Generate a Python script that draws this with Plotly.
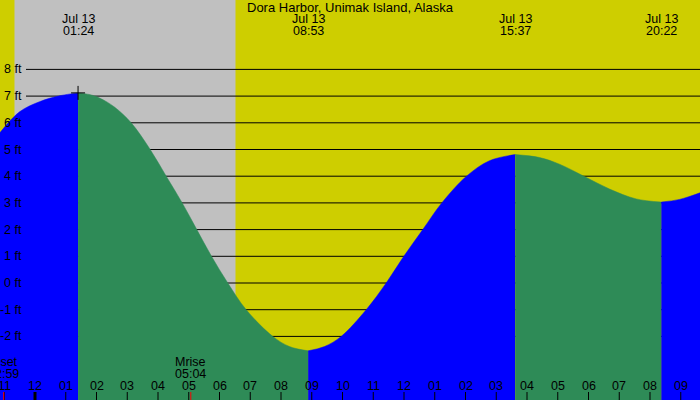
import plotly.graph_objects as go

# ---------------- data (hours relative to Jul 13 00:00, heights in ft) ----------------
TITLE = "Dora Harbor, Unimak Island, Alaska"
DATE_LABEL = "Jul 13"

TIMES = [-1.154, -0.504, 0.146, 0.797, 1.400, 1.772, 2.098, 2.585, 3.128, 3.746, 4.267,
         4.787, 5.262, 5.740, 6.270, 6.868, 7.733, 8.276, 8.883, 9.415, 9.958,
         10.771, 11.421, 11.993, 12.611, 13.229, 14.033, 14.780, 15.617, 16.406, 17.057,
         17.850, 18.683, 19.551, 20.367, 20.959, 21.700]
HEIGHTS = [5.61, 6.41, 6.79, 7.01, 7.12, 7.06, 6.93, 6.59, 6.00, 5.00, 4.00,
           3.00, 2.00, 1.00, 0.00, -1.00, -2.00, -2.38, -2.54, -2.38, -2.00,
           -1.00, 0.00, 1.00, 2.00, 3.00, 4.00, 4.58, 4.81, 4.70, 4.45,
           4.00, 3.52, 3.15, 3.03, 3.13, 3.41]

EVENT_CLOCK = ["01:24", "08:53", "15:37", "20:22"]
EVENT_HEIGHTS = [7.12, -2.54, 4.81, 3.03]

MARK_CLOCK = "01:24"
MARK_HEIGHT = 7.12

SUNSET = -0.667   # Jul 12 23:20
SUNRISE = 6.520   # Jul 13 06:31

MOON_EVENTS = [("Mset", "22:59", -1.017), ("Mrise", "05:04", 5.067)]

FT_LEVELS = [-2, -1, 0, 1, 2, 3, 4, 5, 6, 7, 8]
HOURS = list(range(-1, 22))

# ---------------- helpers ----------------
def clock_to_h(s):
    hh, mm = s.split(":")
    return int(hh) + int(mm) / 60.0

EVENT_TIMES = [clock_to_h(s) for s in EVENT_CLOCK]

PX_PER_H = 30.75
MIDNIGHT_PX = 35.0
W, H = 700, 400
x_range = [-MIDNIGHT_PX / PX_PER_H, (W - MIDNIGHT_PX) / PX_PER_H]
FT_PX = 26.7
ZERO_PX = 283.0
y_range = [-(H - ZERO_PX) / FT_PX, ZERO_PX / FT_PX]

YELLOW = "rgb(206,206,0)"
GRAY = "rgb(192,192,192)"
BLUE = "rgb(0,0,255)"
GREEN = "rgb(46,139,87)"
FONT = "Liberation Sans"

fig = go.Figure()

# tide segments (rising blue, falling green)
bounds = [TIMES[0]] + EVENT_TIMES + [TIMES[-1]]
for i in range(len(bounds) - 1):
    a, b = bounds[i], bounds[i + 1]
    xs = [t for t in TIMES if a - 1e-3 <= t <= b + 1e-3]
    ys = [h for t, h in zip(TIMES, HEIGHTS) if a - 1e-3 <= t <= b + 1e-3]
    color = BLUE if ys[-1] > ys[0] else GREEN
    fig.add_trace(go.Scatter(x=[xs[0], xs[-1]], y=[-20, -20], mode="lines",
                             line=dict(width=0, color=color), hoverinfo="skip",
                             showlegend=False))
    fig.add_trace(go.Scatter(x=xs, y=ys, mode="lines", fill="tonexty",
                             fillcolor=color,
                             line=dict(width=0.5, color=color, shape="spline", smoothing=1),
                             hoverinfo="skip", showlegend=False))

# peak marker
fig.add_trace(go.Scatter(x=[clock_to_h(MARK_CLOCK)], y=[MARK_HEIGHT], mode="markers",
                         marker=dict(symbol="cross-thin", size=10,
                                     line=dict(width=1, color="black")),
                         hoverinfo="skip", showlegend=False))

shapes = []
# night band
shapes.append(dict(type="rect", xref="x", yref="paper", x0=SUNSET, x1=SUNRISE,
                   y0=0, y1=1, fillcolor=GRAY, line=dict(width=0), layer="below"))
# horizontal grid lines
for v in FT_LEVELS:
    shapes.append(dict(type="line", xref="paper", yref="y", x0=26 / W, x1=1,
                       y0=v, y1=v, line=dict(color="black", width=1), layer="below"))
# hour ticks
for hr in HOURS:
    shapes.append(dict(type="line", xref="x", yref="paper", x0=hr, x1=hr,
                       y0=0, y1=8 / H,
                       line=dict(color="black", width=3 if hr % 24 == 0 else 1)))
# moon ticks
for name, clock, t in MOON_EVENTS:
    shapes.append(dict(type="line", xref="x", yref="paper", x0=t, x1=t,
                       y0=0, y1=8 / H, line=dict(color="red", width=1)))

ann = []
def text(x, y, s, xref="x", yref="paper", xanchor="center", size=12.5):
    ann.append(dict(x=x, y=y, xref=xref, yref=yref, text=s, showarrow=False,
                    xanchor=xanchor, yanchor="middle",
                    font=dict(family=FONT, size=size, color="black")))

def py(pix):
    return 1 - pix / H

text(0.5, py(7.5), TITLE, xref="paper", size=13)
for t, c in zip(EVENT_TIMES, EVENT_CLOCK):
    text(t, py(19.5), DATE_LABEL)
    text(t, py(31.5), c)

for v in FT_LEVELS:
    text(24 / W, v, f"{v} ft", xref="paper", yref="y", xanchor="right")

for hr in HOURS:
    lab = hr % 12
    if lab == 0:
        lab = 12
    text(hr, py(385.5), f"{lab:02d}")

for name, clock, t in MOON_EVENTS:
    text(t, py(361.5), name)
    text(t, py(374), clock)

fig.update_layout(
    width=W, height=H,
    margin=dict(l=0, r=0, t=0, b=0),
    paper_bgcolor=YELLOW, plot_bgcolor=YELLOW,
    xaxis=dict(range=x_range, visible=False, fixedrange=True),
    yaxis=dict(range=y_range, visible=False, fixedrange=True),
    shapes=shapes, annotations=ann, showlegend=False,
)

fig.write_html("out.html")
